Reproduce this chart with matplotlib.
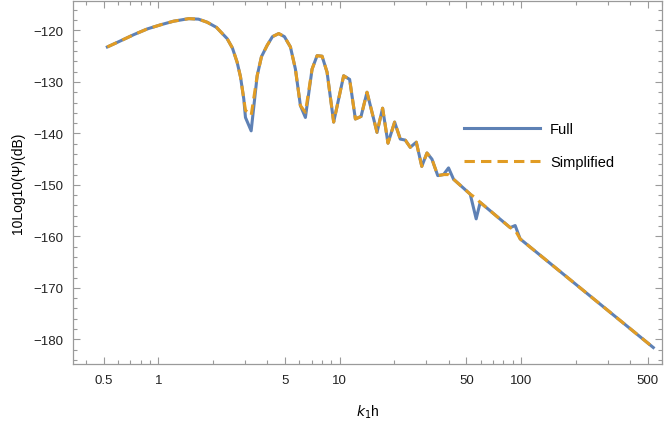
import matplotlib
matplotlib.use("Agg")
import matplotlib.pyplot as plt
from matplotlib.ticker import FixedLocator, NullFormatter, FixedFormatter

plt.rcParams['font.family'] = ['Liberation Sans', 'DejaVu Sans']

# k1*h sample points
k1h = [0.524, 0.621, 0.734, 0.870, 1.03, 1.214, 1.474, 1.667, 1.861, 2.094,
       2.399, 2.563, 2.723, 2.840, 2.961, 3.025, 3.252,
       3.51, 3.706, 3.983, 4.261, 4.615, 4.961, 5.353, 5.703, 6.076, 6.474,
       7.047, 7.507, 8.0, 8.523,
       9.268, 10.52, 11.35, 12.21, 13.12, 14.15, 16.07, 17.25, 18.47, 20.09,
       21.59, 23.0, 24.5, 26.45, 28.36, 30.29, 32.27, 34.74, 37.38, 39.83,
       42.44, 52.45, 56.57, 59.53, 87.1, 92.8, 98.9, 535.8]

# full model, dB
full = [-123.2, -122.0, -120.8, -119.7, -118.9, -118.2, -117.7, -117.8, -118.4, -119.4,
        -121.6, -123.4, -126.2, -129.0, -133.3, -136.9, -139.5,
        -128.8, -125.1, -122.9, -121.2, -120.6, -121.2, -123.2, -127.5, -134.6, -136.9,
        -127.5, -124.9, -125.0, -128.1,
        -137.8, -128.8, -129.5, -137.2, -136.7, -132.0, -139.8, -135.1, -141.9, -137.8,
        -141.1, -141.3, -142.7, -141.7, -146.4, -143.8, -145.0, -148.2, -148.0, -146.7,
        -148.9, -151.8, -156.6, -153.4, -158.3, -157.9, -160.5, -181.6]

# simplified model, dB
simplified = [-123.2, -122.0, -120.8, -119.7, -118.9, -118.2, -117.7, -117.8, -118.4, -119.4,
              -121.6, -123.4, -126.2, -129.0, -133.3, -135.5, -136.5,
              -128.8, -125.1, -122.9, -121.2, -120.6, -121.2, -123.2, -127.5, -134.6, -135.9,
              -127.5, -124.9, -125.0, -128.1,
              -137.8, -128.8, -129.5, -137.2, -136.7, -132.0, -139.8, -135.1, -141.9, -137.8,
              -141.1, -141.3, -142.7, -141.7, -146.4, -143.8, -145.0, -148.2, -148.0, -148.0,
              -148.9, -151.8, -152.6, -153.4, -158.3, -158.8, -160.5, -181.6]

xticks = [0.5, 1, 5, 10, 50, 100, 500]
xtick_labels = ['0.5', '1', '5', '10', '50', '100', '500']
yticks = [-180, -170, -160, -150, -140, -130, -120]

blue = '#5E81B5'
orange = '#E19C24'
frame = '#9a9a9a'

fig = plt.figure(figsize=(6.64, 4.27), dpi=100)
ax = fig.add_axes([0.1095, 0.1452, 0.888, 0.851])

ax.plot(k1h, full, color=blue, lw=2.2, label='Full')
ax.plot(k1h, simplified, color=orange, lw=2.2, dashes=(3.4, 2.0), label='Simplified')

ax.set_xscale('log')
ax.set_xlim(0.3376, 601)
ax.set_ylim(-184.8, -114.2)

ax.xaxis.set_major_locator(FixedLocator(xticks))
ax.xaxis.set_major_formatter(FixedFormatter(xtick_labels))
minor_x = [m * 10.0 ** e for e in range(-1, 3) for m in range(1, 10)]
minor_x = [v for v in minor_x if v not in xticks]
ax.xaxis.set_minor_locator(FixedLocator(minor_x))
ax.xaxis.set_minor_formatter(NullFormatter())

ax.yaxis.set_major_locator(FixedLocator(yticks))
ax.yaxis.set_minor_locator(FixedLocator(list(range(-184, -113, 2))))
ax.set_yticklabels(['\u2212%d' % abs(v) for v in yticks])

ax.tick_params(which='both', direction='in', top=True, right=True,
               color=frame, width=0.8, labelsize=9.5, labelcolor='#222222')
ax.tick_params(which='major', length=5, pad=7)
ax.tick_params(which='minor', length=3)
for s in ax.spines.values():
    s.set_color(frame)
    s.set_linewidth(0.9)

ax.set_xlabel('$k_1$h', fontsize=10, labelpad=12)
ax.set_ylabel('10Log10(\u03a8)(dB)', fontsize=10, labelpad=6)

ax.legend(loc='center left', bbox_to_anchor=(0.688, 0.656), bbox_transform=fig.transFigure,
          frameon=False, fontsize=10.5, handlelength=5.2, handletextpad=0.7,
          labelspacing=1.3, borderpad=0)

fig.savefig('out.png', dpi=100)
